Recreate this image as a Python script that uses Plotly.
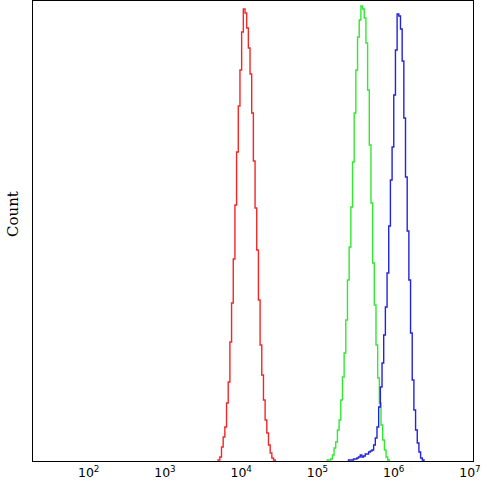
import plotly.graph_objects as go

# Histogram bin width in log10 units (channel width)
BIN_W = 0.022

# Red population
red_start = 3.698
red_counts = [1, 4, 14, 24, 34, 58, 79, 119, 158, 202, 256, 309, 355, 391, 429,
              452, 448,
              433, 413, 387, 348, 300, 253, 211, 161, 116, 86, 61, 41, 28, 16, 8, 3, 1]

# Green population
green_start = 5.130
green_counts = [1, 1, 2, 6, 13, 19, 31, 41, 61, 84, 108, 141, 181, 214, 254, 299, 348, 391, 424, 441,
                455, 452,
                443, 418, 371, 316, 258, 198, 156, 116, 83, 58, 36, 21, 11, 4, 1]

# Blue population
blue_start = 5.407
blue_counts = [1, 1, 1, 2, 2, 3, 4, 6, 4, 5, 7, 7, 9, 10,
               11, 16, 23, 34, 54, 74, 98, 126, 154, 188, 235, 281, 314, 366, 411,
               447, 445,
               432, 400, 343, 284, 230, 181, 128, 81, 51, 31, 18, 9, 3, 1]

tick_vals = [1e2, 1e3, 1e4, 1e5, 1e6, 1e7]
tick_text = ["10<sup>2</sup>", "10<sup>3</sup>", "10<sup>4</sup>",
             "10<sup>5</sup>", "10<sup>6</sup>", "10<sup>7</sup>"]

series = [
    (red_start, red_counts, "rgb(240,40,40)"),
    (green_start, green_counts, "rgb(50,232,50)"),
    (blue_start, blue_counts, "rgb(35,35,220)"),
]


def step_points(start, counts):
    edges = [start + k * BIN_W for k in range(len(counts) + 1)]
    xs = [10 ** edges[0]] + [10 ** e for e in edges[:-1]] + [10 ** edges[-1]]
    ys = [0] + list(counts) + [0]
    return xs, ys


fig = go.Figure()
for start, counts, color in series:
    xs, ys = step_points(start, counts)
    fig.add_trace(go.Scatter(x=xs, y=ys, mode="lines", line_shape="hv",
                             line=dict(color=color, width=1.4),
                             showlegend=False, hoverinfo="skip"))

fig.update_layout(
    width=488, height=487,
    margin=dict(l=33, r=15, t=1, b=26),
    paper_bgcolor="white", plot_bgcolor="white",
    font=dict(family="DejaVu Sans", color="black"),
)
fig.update_xaxes(type="log", range=[1.27, 7.04],
                 tickvals=tick_vals, ticktext=tick_text, ticks="",
                 tickfont=dict(size=12.5, family="DejaVu Sans", color="black"),
                 showgrid=False, zeroline=False,
                 showline=True, linecolor="black", linewidth=1, mirror=True)
fig.update_yaxes(range=[0, 460], showticklabels=False, ticks="",
                 showgrid=False, zeroline=False,
                 showline=True, linecolor="black", linewidth=1, mirror=True)

fig.add_annotation(text="Count", xref="paper", yref="paper",
                   x=0, xshift=-20, y=0.537, textangle=-90,
                   showarrow=False, xanchor="center", yanchor="middle",
                   font=dict(family="DejaVu Serif", size=15, color="black"))

fig.write_html("out.html", config={"displayModeBar": False},
               post_script="document.body.style.margin='0px';document.body.style.padding='0px';")
